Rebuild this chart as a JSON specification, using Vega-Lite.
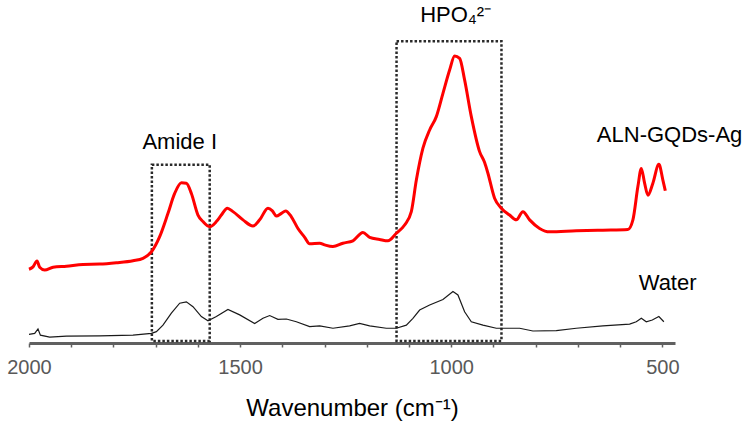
{
  "$schema": "https://vega.github.io/schema/vega-lite/v6.json",
  "width": 646,
  "height": 343,
  "autosize": {"type": "none"},
  "padding": {"left": 29, "top": 0, "right": 75, "bottom": 79},
  "background": "white",
  "config": {"view": {"stroke": null}, "font": "Liberation Sans"},
  "datasets": {
    "aln": [
      {"wn": 2000, "v": 21.5}, {"wn": 1990.5, "v": 22.2}, {"wn": 1981, "v": 23.9}, {"wn": 1974.7, "v": 22.1},
      {"wn": 1962.8, "v": 21.3}, {"wn": 1943, "v": 22.1}, {"wn": 1911.4, "v": 22.4}, {"wn": 1872, "v": 22.9},
      {"wn": 1832.6, "v": 23.0}, {"wn": 1793, "v": 23.4}, {"wn": 1753.7, "v": 24.0}, {"wn": 1730, "v": 24.7},
      {"wn": 1710, "v": 26.6}, {"wn": 1690.5, "v": 31.0}, {"wn": 1670.8, "v": 37.8}, {"wn": 1655, "v": 43.6},
      {"wn": 1639, "v": 46.7}, {"wn": 1627.3, "v": 46.6}, {"wn": 1615.4, "v": 43.6}, {"wn": 1599.8, "v": 37.3},
      {"wn": 1588, "v": 35.4}, {"wn": 1572, "v": 33.9}, {"wn": 1556.2, "v": 35.4}, {"wn": 1544.4, "v": 37.3},
      {"wn": 1530.2, "v": 39.3}, {"wn": 1516.9, "v": 38.3}, {"wn": 1493.2, "v": 35.9}, {"wn": 1469.6, "v": 34.1},
      {"wn": 1453.7, "v": 35.9}, {"wn": 1434, "v": 39.3}, {"wn": 1423.6, "v": 38.5}, {"wn": 1414.2, "v": 37.0},
      {"wn": 1402.3, "v": 37.8}, {"wn": 1392.1, "v": 38.5}, {"wn": 1378.6, "v": 36.8}, {"wn": 1363, "v": 33.4},
      {"wn": 1347.1, "v": 30.8}, {"wn": 1335.3, "v": 28.9}, {"wn": 1311.6, "v": 29.1}, {"wn": 1299.8, "v": 28.6},
      {"wn": 1280.1, "v": 28.1}, {"wn": 1256.5, "v": 29.1}, {"wn": 1232.8, "v": 29.8}, {"wn": 1209.1, "v": 32.2},
      {"wn": 1193.2, "v": 30.8}, {"wn": 1169.6, "v": 30.2}, {"wn": 1149.9, "v": 29.8}, {"wn": 1130, "v": 32.0},
      {"wn": 1110.4, "v": 34.4}, {"wn": 1094.5, "v": 38.3}, {"wn": 1082.6, "v": 47.5}, {"wn": 1067, "v": 56.8},
      {"wn": 1051.1, "v": 62.1}, {"wn": 1035.3, "v": 66.0}, {"wn": 1019.6, "v": 72.8}, {"wn": 1003.8, "v": 79.6},
      {"wn": 991.9, "v": 83.7}, {"wn": 980.1, "v": 83.0}, {"wn": 968.3, "v": 76.7}, {"wn": 952.4, "v": 66.0},
      {"wn": 932.8, "v": 55.8}, {"wn": 920.9, "v": 52.6}, {"wn": 913.1, "v": 49.5}, {"wn": 897.3, "v": 42.2},
      {"wn": 881.4, "v": 39.3}, {"wn": 861.8, "v": 37.3}, {"wn": 845.9, "v": 35.9}, {"wn": 830.2, "v": 38.3},
      {"wn": 814.3, "v": 35.9}, {"wn": 790.7, "v": 33.4}, {"wn": 767, "v": 32.4}, {"wn": 703.8, "v": 32.7},
      {"wn": 640.8, "v": 32.9}, {"wn": 581.6, "v": 33.1}, {"wn": 569.7, "v": 35.9}, {"wn": 557.9, "v": 45.6},
      {"wn": 549.8, "v": 50.9}, {"wn": 542, "v": 46.6}, {"wn": 534.2, "v": 43.1}, {"wn": 522.4, "v": 46.6},
      {"wn": 508.2, "v": 52.1}, {"wn": 498.7, "v": 47.5}, {"wn": 493, "v": 44.4}
    ],
    "water": [
      {"wn": 2000, "v": 2.5}, {"wn": 1986.5, "v": 2.8}, {"wn": 1978.7, "v": 4.1}, {"wn": 1973, "v": 2.3},
      {"wn": 1951, "v": 1.7}, {"wn": 1911.4, "v": 2.0}, {"wn": 1832.6, "v": 2.1}, {"wn": 1753.7, "v": 2.3},
      {"wn": 1710, "v": 2.8}, {"wn": 1698.3, "v": 3.3}, {"wn": 1682.7, "v": 5.2}, {"wn": 1662.8, "v": 8.7},
      {"wn": 1643.1, "v": 11.6}, {"wn": 1627.3, "v": 12.0}, {"wn": 1611.6, "v": 10.6}, {"wn": 1591.8, "v": 7.7},
      {"wn": 1576.1, "v": 6.5}, {"wn": 1556.2, "v": 7.7}, {"wn": 1528.8, "v": 9.8}, {"wn": 1501, "v": 8.2},
      {"wn": 1465.5, "v": 5.7}, {"wn": 1445.9, "v": 7.2}, {"wn": 1430, "v": 8.0}, {"wn": 1410.4, "v": 6.9},
      {"wn": 1390.5, "v": 7.0}, {"wn": 1366.8, "v": 6.2}, {"wn": 1335.3, "v": 4.8}, {"wn": 1311.6, "v": 5.0},
      {"wn": 1280.1, "v": 4.3}, {"wn": 1240.6, "v": 5.0}, {"wn": 1217, "v": 5.7}, {"wn": 1193.2, "v": 5.0},
      {"wn": 1153.7, "v": 4.3}, {"wn": 1130, "v": 4.3}, {"wn": 1106.3, "v": 5.2}, {"wn": 1090.7, "v": 7.2},
      {"wn": 1074.8, "v": 9.6}, {"wn": 1051.1, "v": 11.1}, {"wn": 1019.6, "v": 12.7}, {"wn": 995.9, "v": 15.0},
      {"wn": 984.1, "v": 14.0}, {"wn": 968.3, "v": 9.1}, {"wn": 952.4, "v": 6.2}, {"wn": 924.9, "v": 5.2},
      {"wn": 893.2, "v": 4.3}, {"wn": 838, "v": 4.3}, {"wn": 806.5, "v": 3.5}, {"wn": 751.1, "v": 3.6},
      {"wn": 703.8, "v": 4.3}, {"wn": 640.8, "v": 5.0}, {"wn": 577.5, "v": 5.5}, {"wn": 561.7, "v": 6.2},
      {"wn": 549.8, "v": 7.2}, {"wn": 538, "v": 6.2}, {"wn": 523.8, "v": 6.7}, {"wn": 508.2, "v": 7.7},
      {"wn": 496.4, "v": 6.2}
    ],
    "boxes": [
      {"name": "Amide I", "wn1": 1709, "wn2": 1572, "v1": 0.6, "v2": 52},
      {"name": "HPO4", "wn1": 1129.5, "wn2": 881, "v1": 0.6, "v2": 88}
    ],
    "labels": [
      {"text": "Amide I", "wn": 1643, "v": 56.6},
      {"text": "HPO₄²⁻", "wn": 989.6, "v": 93.6},
      {"text": "ALN-GQDs-Ag", "wn": 482.8, "v": 58.7},
      {"text": "Water", "wn": 487.5, "v": 15.5}
    ]
  },
  "layer": [
    {
      "data": {"name": "boxes"},
      "mark": {"type": "rect", "filled": false, "stroke": "#2a2a2a", "strokeWidth": 2.5, "strokeDash": [2.5, 2]},
      "encoding": {
        "x": {"field": "wn1", "type": "quantitative", "scale": {"domain": [470, 2000], "reverse": true, "nice": false, "zero": false},
          "axis": {
            "values": [2000, 1900, 1800, 1700, 1600, 1500, 1400, 1300, 1200, 1100, 1000, 900, 800, 700, 600, 500],
            "labelExpr": "datum.value % 500 === 0 ? datum.label : ''",
            "format": "d",
            "labelFlush": false,
            "labelOverlap": false,
            "grid": false,
            "domainColor": "#606060",
            "domainWidth": 3,
            "tickColor": "#606060",
            "tickWidth": 1.5,
            "tickSize": 4,
            "labelColor": "#595959",
            "labelFontSize": 20,
            "labelPadding": 10,
            "labelFont": "Liberation Sans",
            "title": "Wavenumber (cm⁻¹)",
            "titleFont": "Liberation Sans",
            "titleFontSize": 24,
            "titleFontWeight": "normal",
            "titleColor": "#000000",
            "titleBaseline": "alphabetic",
            "titleY": 72
          }},
        "x2": {"field": "wn2"},
        "y": {"field": "v1", "type": "quantitative", "scale": {"domain": [0, 100], "nice": false}, "axis": null},
        "y2": {"field": "v2"}
      }
    },
    {
      "data": {"name": "water"},
      "mark": {"type": "line", "color": "#1a1a1a", "strokeWidth": 1.2},
      "encoding": {
        "x": {"field": "wn", "type": "quantitative"},
        "y": {"field": "v", "type": "quantitative"}
      }
    },
    {
      "data": {"name": "aln"},
      "mark": {"type": "line", "color": "#ff0000", "strokeWidth": 3, "interpolate": "monotone"},
      "encoding": {
        "x": {"field": "wn", "type": "quantitative"},
        "y": {"field": "v", "type": "quantitative"}
      }
    },
    {
      "data": {"name": "labels"},
      "mark": {"type": "text", "font": "Liberation Sans", "fontSize": 22, "color": "#000000", "align": "center", "baseline": "alphabetic"},
      "encoding": {
        "x": {"field": "wn", "type": "quantitative"},
        "y": {"field": "v", "type": "quantitative"},
        "text": {"field": "text"}
      }
    }
  ]
}
